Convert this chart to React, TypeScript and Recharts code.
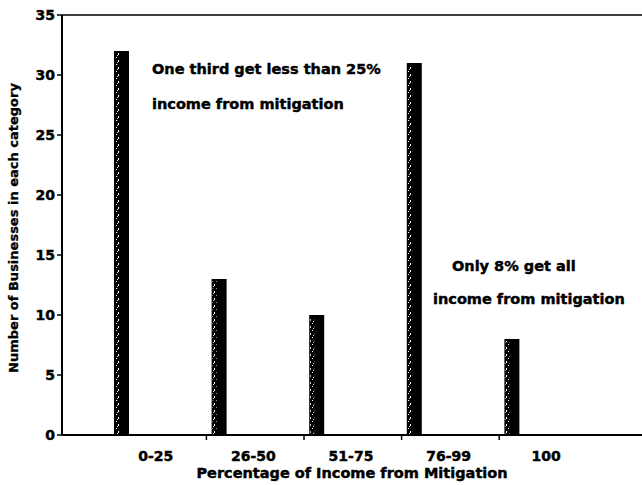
import React from "react";
import { BarChart, Bar, XAxis, YAxis, ReferenceLine } from "recharts";

const categories = ["0-25", "26-50", "51-75", "76-99", "100"];
const businessCounts = [32, 13, 10, 31, 8];
const yTicks = [0, 5, 10, 15, 20, 25, 30, 35];

const noteTopLines = ["One third get less than 25%", "income from mitigation"];
const noteBottomLines = ["Only 8% get all", "income from mitigation"];

const data = categories.map((range, i) => ({ range, count: businessCounts[i] }));

const FONT = '"DejaVu Sans", "Liberation Sans", Arial, sans-serif';
const BAR_SHIFT = 11; // bars sit just right of the category tick
const HEAVY = 0.45; // extra stroke to mimic the heavy scanned type

const BarShape = (props: any) => {
  const { x, y, width, height } = props;
  if (!height) return null;
  const bx = x + BAR_SHIFT;
  return (
    <g>
      <rect x={bx} y={y} width={width} height={height} fill="#000" />
      <rect x={bx + 1} y={y + 2} width={4} height={height - 2} fill="url(#speckle)" />
    </g>
  );
};

const XTick = (props: any) => {
  const { x, y, payload, index } = props;
  return (
    <g>
      {index > 0 && <line x1={x - 2} y1={y} x2={x - 2} y2={y + 5} stroke="#000" strokeWidth={1.5} />}
      <text
        x={x + 45}
        y={y + 26}
        textAnchor="middle"
        fontFamily={FONT}
        fontWeight={700}
        fontSize={14}
        fill="#000"
        stroke="#000"
        strokeWidth={HEAVY}
      >
        {payload.value}
      </text>
    </g>
  );
};

const YLabel = (props: any) => {
  const vb = props.viewBox || { x: 0, y: 15, height: 420 };
  const cx = vb.x + 13;
  const cy = vb.y + vb.height / 2 + 3;
  return (
    <text
      x={cx}
      y={cy}
      transform={`rotate(-90, ${cx}, ${cy})`}
      textAnchor="middle"
      dominantBaseline="central"
      fontFamily={FONT}
      fontWeight={700}
      fontSize={13}
      fill="#000"
      stroke="#000"
      strokeWidth={0.3}
    >
      Number of Businesses in each category
    </text>
  );
};

const noteStyle: React.CSSProperties = {
  position: "absolute",
  fontFamily: FONT,
  fontWeight: 700,
  fontSize: 14.5,
  lineHeight: "16px",
  whiteSpace: "nowrap",
  color: "#000",
  WebkitTextStroke: "0.45px #000",
};

export default function App() {
  return (
    <div style={{ position: "absolute", left: 0, top: 0, width: 642, height: 485, overflow: "hidden", background: "#fff" }}>
      <svg width={0} height={0} style={{ position: "absolute" }}>
        <defs>
          <pattern id="speckle" width={4} height={7} patternUnits="userSpaceOnUse">
            <rect x={0} y={1} width={1} height={1} fill="#fff" />
            <rect x={2} y={4} width={1} height={2} fill="#fff" />
            <rect x={1} y={6} width={1} height={1} fill="#ddd" />
          </pattern>
        </defs>
      </svg>
      <BarChart width={642} height={485} data={data} margin={{ top: 15, right: 0, bottom: 0, left: 0 }}>
        <XAxis
          dataKey="range"
          height={50}
          padding={{ left: 0, right: 92 }}
          axisLine={{ stroke: "#000", strokeWidth: 2 }}
          tickLine={false}
          tickSize={0}
          tickMargin={0}
          interval={0}
          tick={<XTick />}
          label={{
            value: "Percentage of Income from Mitigation",
            position: "insideBottom",
            offset: 7,
            style: {
              fontFamily: FONT,
              fontWeight: 700,
              fontSize: 14.5,
              fill: "#000",
              stroke: "#000",
              strokeWidth: HEAVY,
            },
          }}
        />
        <YAxis
          width={62}
          domain={[0, 35]}
          ticks={yTicks}
          interval={0}
          axisLine={{ stroke: "#000", strokeWidth: 2 }}
          tickLine={{ stroke: "#000", strokeWidth: 1.5 }}
          tickSize={5}
          tickMargin={2}
          tick={{ fontFamily: FONT, fontWeight: 700, fontSize: 14, fill: "#000", stroke: "#000", strokeWidth: HEAVY }}
          label={<YLabel />}
        />
        <ReferenceLine y={35} stroke="#000" strokeWidth={1.5} />
        <Bar dataKey="count" barSize={15} shape={<BarShape />} isAnimationActive={false} />
      </BarChart>
      <div style={{ ...noteStyle, left: 152, top: 61 }}>{noteTopLines[0]}</div>
      <div style={{ ...noteStyle, left: 152, top: 96 }}>{noteTopLines[1]}</div>
      <div style={{ ...noteStyle, left: 452, top: 258 }}>{noteBottomLines[0]}</div>
      <div style={{ ...noteStyle, left: 433, top: 291 }}>{noteBottomLines[1]}</div>
    </div>
  );
}
